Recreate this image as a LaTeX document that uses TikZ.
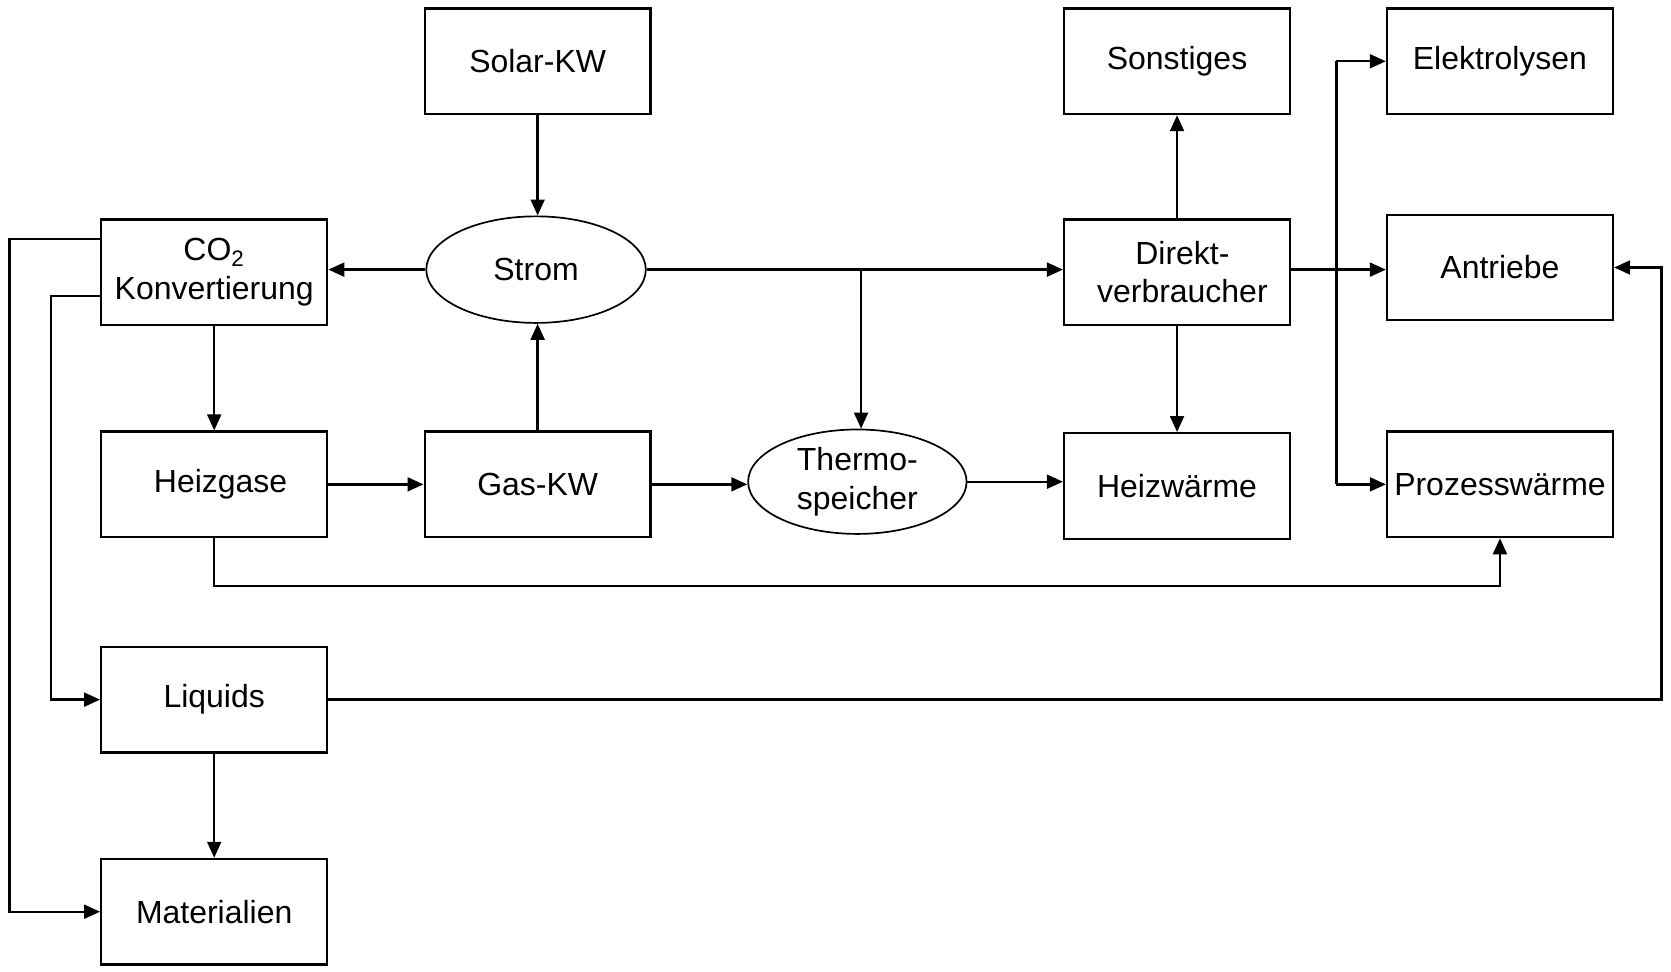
\documentclass[tikz,border=0pt]{standalone}
\usepackage{fontspec}
\setmainfont{Liberation Sans}
\usetikzlibrary{arrows.meta,shapes.geometric,calc}

\begin{document}
\begin{tikzpicture}[x=0.5pt,y=-0.5pt,
  label font/.style={font=\fontsize{15}{18}\selectfont},
  box/.style={draw,line width=1.1pt,minimum width=106pt,minimum height=49.5pt,
    inner sep=0pt,align=center,label font},
  oval/.style={draw,ellipse,line width=0.8pt,minimum width=103pt,minimum height=50pt,
    inner sep=0pt,align=center,label font},
  flow/.style={line width=1.1pt,-{Triangle[length=7.5pt,width=6.5pt]}},
  link/.style={line width=1.1pt}]
\useasboundingbox (0,0) rectangle (1568,912);

% nodes
\node[box]  (solar)    at (504.5,57.5)  {\raisebox{-2.5pt}{Solar-KW}};
\node[oval] (strom)    at (503,253)     {Strom};
\node[box]  (co2)      at (201,255.5)   {CO\textsubscript{2}\\Konvertierung};
\node[box]  (direkt)   at (1104.5,255.5){\hspace*{5pt}Direkt-\\\hspace*{5pt}verbraucher};
\node[box]  (sonst)    at (1104.5,57.5) {Sonstiges};
\node[box]  (elektro)  at (1407.5,57.5) {Elektrolysen};
\node[box]  (antriebe) at (1407.5,251)  {Antriebe};
\node[box]  (heizgase) at (201,454.5)   {\hspace*{6pt}Heizgase};
\node[box]  (gaskw)    at (504.5,454.5) {Gas-KW};
\node[oval, minimum width=102.5pt, minimum height=49pt]
            (thermo)   at (804.5,452)   {Thermo-\\speicher};
\node[box]  (heizw)    at (1104.5,456)  {Heizwärme};
\node[box]  (prozess)  at (1407.5,454.5){Prozesswärme};
\node[box]  (liquids)  at (201,656.5)   {Liquids};
\node[box]  (mat)      at (201,855.5)   {Materialien};

% helper columns for routed lines
\coordinate (bus)   at (1254,0);
\coordinate (rr)    at (1559,0);
\coordinate (lout)  at (9,0);
\coordinate (lin)   at (48,0);
\coordinate (tap)   at (808,0);

% power flows
\draw[flow] (solar.south) -- (solar.south |- strom.north);
\draw[flow] (gaskw.north) -- (gaskw.north |- strom.south);
\draw[flow] (strom.west) -- (co2.east |- strom.west);
\draw[flow] (strom.east) -- (direkt.west |- strom.east);
\draw[flow] (tap |- strom.east) -- (tap |- thermo.north);

% gas and heat chain
\draw[flow] (co2.south) -- (heizgase.north);
\draw[flow] (heizgase.east) -- (gaskw.west);
\draw[flow] (gaskw.east) -- (thermo.west |- gaskw.east);
\draw[flow] (thermo.east) -- (heizw.west |- thermo.east);

% direct consumers
\draw[flow] (direkt.north) -- (sonst.south);
\draw[flow] (direkt.south) -- (heizw.north);
\draw[flow] (direkt.east |- strom.east) -- (antriebe.west |- strom.east);
\draw[link] (bus |- elektro.west) -- (bus |- prozess.west);
\draw[flow] (bus |- elektro.west) -- (elektro.west);
\draw[flow] (bus |- prozess.west) -- (prozess.west);

% long return lines
\draw[flow] (heizgase.south) -- ++(0,45) -| (prozess.south);
\draw[flow] (liquids.east) -| (rr |- antriebe.east) -- (antriebe.east);
\draw[flow] ($(co2.west)+(0,-31.5)$) -| (lout |- mat.west) -- (mat.west);
\draw[flow] ($(co2.west)+(0,22.5)$) -| (lin |- liquids.west) -- (liquids.west);
\draw[flow] (liquids.south) -- (mat.north);
\end{tikzpicture}
\end{document}
